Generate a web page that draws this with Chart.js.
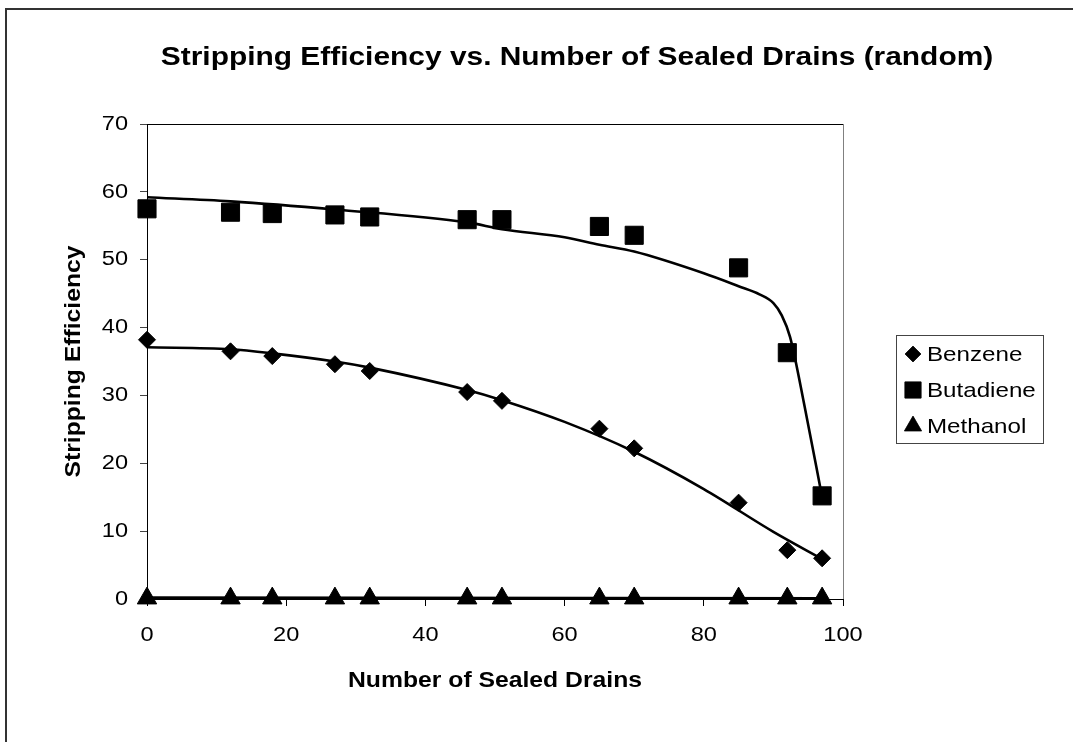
<!DOCTYPE html>
<html>
<head>
<meta charset="utf-8">
<script src="https://cdn.jsdelivr.net/npm/chart.js@4"></script>
<style>
  html, body { margin: 0; padding: 0; background: #fff; }
  #wrap { width: 1073px; height: 742px; position: relative; }
</style>
</head>
<body>
<div id="wrap"><canvas id="c" width="1073" height="742"></canvas></div>
<script>
// ---- data ----
const drains = [0, 12, 18, 27, 32, 46, 51, 65, 70, 85, 92, 97];
const benzene = [38.2, 36.5, 35.8, 34.6, 33.6, 30.5, 29.2, 25.1, 22.2, 14.2, 7.2, 6.0];
const butadiene = [57.5, 57.0, 56.8, 56.6, 56.3, 55.9, 55.9, 54.9, 53.6, 48.8, 36.3, 15.2];
const methanol = [0.1, 0.1, 0.1, 0.1, 0.1, 0.1, 0.1, 0.1, 0.1, 0.1, 0.1, 0.1];

// trend lines
const benzeneTrendX = [0, 12, 18, 27, 32, 46, 51, 60, 70, 80, 90, 97];
const benzeneTrendY = [37.1, 36.8, 36.2, 35.0, 34.1, 30.8, 29.3, 26.1, 21.7, 16.2, 9.9, 5.9];
const butadieneTrendX = [0, 12, 27, 46, 51, 60, 65, 70, 80, 85, 88, 90, 91.2, 92.4, 94.5, 97];
const butadieneTrendY = [59.2, 58.6, 57.4, 55.5, 54.5, 53.3, 52.2, 51.2, 48.0, 46.1, 44.9, 43.6, 41.8, 38.6, 28.3, 15.0];
const methanolTrendX = [0, 97];
const methanolTrendY = [0.2, 0.1];

const xTicks = [0, 20, 40, 60, 80, 100];
const yTicks = [0, 10, 20, 30, 40, 50, 60, 70];

const titleText = 'Stripping Efficiency vs. Number of Sealed Drains (random)';
const xTitle = 'Number of Sealed Drains';
const yTitle = 'Stripping Efficiency';
const seriesNames = ['Benzene', 'Butadiene', 'Methanol'];

const FONT = "'Liberation Sans', Arial, sans-serif";

// the reference's lettering is a little wider than Arial: widen text horizontally
const SX = 1.15;
const origFill = CanvasRenderingContext2D.prototype.fillText;
CanvasRenderingContext2D.prototype.fillText = function (t, x, y, mw) {
  this.save();
  this.translate(x, y);
  this.scale(SX, 1);
  if (mw !== undefined && mw !== null) origFill.call(this, t, 0, 0, mw / SX);
  else origFill.call(this, t, 0, 0);
  this.restore();
};

const pts = (xs, ys) => xs.map((x, i) => ({ x: x, y: ys[i] }));

const markerDs = (label, ys, style, r) => ({
  type: 'scatter', label: label, data: pts(drains, ys),
  pointStyle: style, pointRadius: r, pointHoverRadius: r,
  backgroundColor: '#000', borderColor: '#000', pointBorderWidth: 1,
  showLine: false, isMarker: true, order: 0, clip: false
});
const trendDs = (xs, ys) => ({
  type: 'line', label: '', data: pts(xs, ys),
  borderColor: '#000', borderWidth: 2.6, pointRadius: 0, pointHoverRadius: 0,
  fill: false, tension: 0.4, cubicInterpolationMode: 'monotone', isMarker: false, order: 1, clip: false
});

const frame = {
  id: 'frame',
  beforeDraw(chart) {
    const ctx = chart.ctx;
    ctx.save();
    ctx.fillStyle = '#fff';
    ctx.fillRect(0, 0, chart.width, chart.height);
    ctx.strokeStyle = '#333';
    ctx.lineWidth = 2;
    ctx.strokeRect(6, 9, 1200, 900);
    ctx.restore();
  },
  beforeDatasetsDraw(chart) {
    const { ctx, chartArea: a } = chart;
    ctx.save();
    ctx.lineWidth = 1;
    ctx.strokeStyle = '#000';
    ctx.beginPath(); ctx.moveTo(a.left, a.top + 0.5); ctx.lineTo(a.right, a.top + 0.5); ctx.stroke();
    ctx.strokeStyle = '#808080';
    ctx.beginPath(); ctx.moveTo(a.right + 0.5, a.top); ctx.lineTo(a.right + 0.5, a.bottom); ctx.stroke();
    ctx.restore();
  },
  afterDraw(chart) {
    const ctx = chart.ctx;
    ctx.save();
    // title
    ctx.fillStyle = '#000';
    ctx.font = 'bold 26px ' + FONT;
    ctx.textAlign = 'center';
    ctx.textBaseline = 'middle';
    ctx.fillText(titleText, 577, 58);
    // legend
    const bx = 896, by = 335, bw = 147, bh = 108;
    ctx.strokeStyle = '#444';
    ctx.lineWidth = 1;
    ctx.strokeRect(bx + 0.5, by + 0.5, bw, bh);
    ctx.font = '21px ' + FONT;
    ctx.textAlign = 'left';
    const markers = chart.data.datasets.filter(d => d.isMarker);
    markers.forEach((d, i) => {
      const cy = 354 + i * 36;
      const r = d.pointStyle === 'rect' ? 11.5 : (d.pointStyle === 'triangle' ? 10 : 8);
      Chart.helpers.drawPoint(ctx, { pointStyle: d.pointStyle, radius: r, borderWidth: 1, rotation: 0 }, 913, cy);
      ctx.fillStyle = '#000';
      ctx.fill();
      ctx.fillText(d.label, 927, cy + 1);
    });
    ctx.restore();
  }
};

new Chart(document.getElementById('c'), {
  data: {
    datasets: [
      markerDs(seriesNames[0], benzene, 'rectRot', 8.5),
      markerDs(seriesNames[1], butadiene, 'rect', 12.8),
      markerDs(seriesNames[2], methanol, 'triangle', 11.2),
      trendDs(benzeneTrendX, benzeneTrendY),
      trendDs(butadieneTrendX, butadieneTrendY),
      trendDs(methanolTrendX, methanolTrendY)
    ]
  },
  options: {
    responsive: false,
    animation: false,
    devicePixelRatio: 1,
    layout: { padding: { left: 0, top: 124, right: 230, bottom: 0 } },
    plugins: { legend: { display: false }, title: { display: false }, tooltip: { enabled: false } },
    scales: {
      x: {
        type: 'linear', min: 0, max: 100,
        afterBuildTicks: s => { s.ticks = xTicks.map(v => ({ value: v })); },
        afterFit: s => { s.height = 143; },
        border: { display: true, color: '#000', width: 1 },
        grid: { drawOnChartArea: false, drawTicks: true, tickLength: 7, color: '#000' },
        ticks: { color: '#000', font: { family: FONT, size: 20.5 }, padding: 17, maxRotation: 0 },
        title: { display: true, text: xTitle, color: '#000', font: { family: FONT, size: 21.5, weight: 'bold' }, padding: { top: 0, bottom: 48 } }
      },
      y: {
        type: 'linear', min: 0, max: 70,
        afterBuildTicks: s => { s.ticks = yTicks.map(v => ({ value: v })); },
        afterFit: s => { s.width = 147; },
        border: { display: true, color: '#000', width: 1 },
        grid: { drawOnChartArea: false, drawTicks: true, tickLength: 7, color: '#444' },
        ticks: { color: '#000', font: { family: FONT, size: 20.5 }, padding: 12 },
        title: { display: true, text: yTitle, color: '#000', font: { family: FONT, size: 21.5, weight: 'bold' }, padding: { top: 61, bottom: 0 } }
      }
    }
  },
  plugins: [frame]
});
</script>
</body>
</html>
